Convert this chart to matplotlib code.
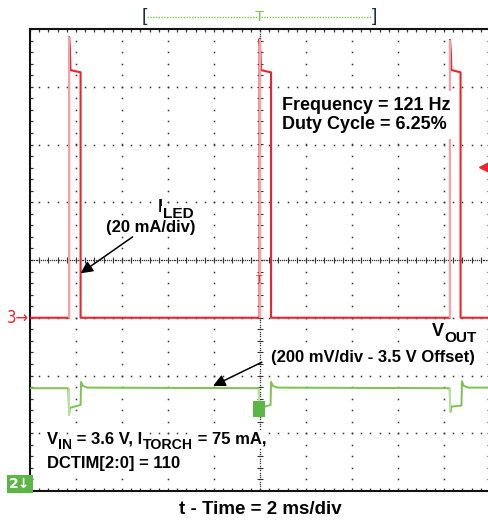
"""
Scope capture: ILED and VOUT in flash duty-cycle mode.
"""

import matplotlib.pyplot as plt
import numpy as np
from matplotlib.patches import Rectangle

plt.rcParams['font.family'] = ['Liberation Sans', 'DejaVu Sans']

# screen is 10 x 8 divisions, time in divisions (2 ms/div), level in divisions
iled_t = [0.0, 0.85, 0.85, 0.87, 0.88, 0.98, 1.10, 1.10,
          4.99, 4.99, 5.01, 5.02, 5.12, 5.24, 5.24,
          9.13, 9.13, 9.15, 9.16, 9.26, 9.36, 9.36, 10.0]
iled_v = [3.0, 3.0, 7.86, 7.58, 7.29, 7.27, 7.25, 3.0,
          3.0, 7.83, 7.56, 7.29, 7.27, 7.25, 3.0,
          3.0, 7.81, 7.58, 7.29, 7.27, 7.25, 3.0, 3.0]
iled_rise_t = [0.85, 4.99, 9.13]
iled_rise_top = [7.86, 7.83, 7.81]
iled_base = 3.0

vout_t = [0.0, 0.83, 0.84, 0.85, 0.87, 1.10, 1.11, 1.15, 1.25,
          4.97, 4.98, 4.99, 5.01, 5.23, 5.24, 5.28, 5.38,
          9.12, 9.13, 9.14, 9.16, 9.38, 9.39, 9.43, 9.53, 10.0]
vout_v = [1.78, 1.78, 1.58, 1.32, 1.44, 1.49, 1.89, 1.82, 1.79,
          1.78, 1.58, 1.32, 1.44, 1.49, 1.89, 1.82, 1.79,
          1.78, 1.60, 1.37, 1.46, 1.48, 1.90, 1.82, 1.79, 1.79]
vout_drop_t = [0.84, 4.98, 9.13]
vout_drop_low = [1.32, 1.32, 1.37]
vout_base = 1.78

red = '#e8262d'
pink = '#f3a3a8'
green = '#7dc351'
pale_green = '#b9e0a0'
dot = '#333333'
box = dict(facecolor='white', edgecolor='none', pad=1)


def chain_text(ax, x, y, pieces, size=12):
    """Write (string, is_subscript) pieces one after another on a baseline."""
    first = ax.text(x, y, pieces[0][0], fontsize=size, fontweight='bold',
                    va='baseline', ha='left', bbox=box, zorder=5)
    prev = first
    for s, sub in pieces[1:]:
        prev = ax.annotate(s, xy=(1, 0), xycoords=(prev, first),
                           xytext=(0, -3.5 if sub else 0), textcoords='offset points',
                           fontsize=size * 0.85 if sub else size, fontweight='bold',
                           va='bottom', ha='left', bbox=box, zorder=5)
    return first


fig = plt.figure(figsize=(4.89, 5.21), dpi=100)
ax = fig.add_axes([30 / 489, 30 / 521, 460 / 489, 462 / 521])
ax.set_xlim(0, 10)
ax.set_ylim(0, 8)

# graticule: dotted division lines, denser centre cross
for gx in range(1, 10):
    if gx == 5:
        continue
    ys = np.arange(0.2, 8, 0.2)
    ax.plot(np.full_like(ys, gx), ys, ls='none', marker='s', ms=1.1, color=dot, mew=0)
for gy in range(1, 8):
    if gy == 4:
        continue
    xs = np.arange(0.2, 10, 0.2)
    ax.plot(xs, np.full_like(xs, gy), ls='none', marker='s', ms=1.1, color=dot, mew=0)
ys = np.arange(0.04, 8, 0.04)
ax.plot(np.full_like(ys, 5), ys, ls='none', marker='s', ms=0.9, color=dot, mew=0)
ys = np.arange(0.2, 8, 0.2)
ax.plot(np.full_like(ys, 5), ys, ls='none', marker='_', ms=4, color=dot, mew=0.8)
xs = np.arange(0.04, 10, 0.04)
ax.plot(xs, np.full_like(xs, 4), ls='none', marker='s', ms=0.9, color=dot, mew=0)
xs = np.arange(0.2, 10, 0.2)
ax.plot(xs, np.full_like(xs, 4), ls='none', marker='|', ms=4, color=dot, mew=0.8)

# traces
ax.plot(iled_t, iled_v, color=red, lw=1.5, zorder=3)
ax.vlines(iled_rise_t, iled_base, iled_rise_top, color=pink, lw=1.5, zorder=3)
ax.plot(vout_t, vout_v, color=green, lw=1.4, zorder=3)
ax.vlines(vout_drop_t, vout_drop_low, vout_base, color=pale_green, lw=1.4, zorder=3)

# frame and ticks
ax.set_xticks(np.arange(0, 10.01, 0.2))
ax.set_yticks(np.arange(0, 8.01, 0.2))
ax.tick_params(direction='in', length=2.5, width=0.9, color=dot,
               top=True, right=True, labelbottom=False, labelleft=False)
for side in ['left', 'top', 'bottom', 'right']:
    ax.spines[side].set_linewidth(1.5)
    ax.spines[side].set_color('#111111')

# channel / trigger markers
ax.text(-0.03, iled_base, '3\u2192', color=red, fontsize=12, ha='right',
        va='center', family=['DejaVu Sans'], stretch='condensed', clip_on=False)
ax.text(-0.22, 0.12, '2\u2193', color='white', fontsize=10, fontweight='bold',
        ha='center', va='center', family=['DejaVu Sans'], clip_on=False,
        bbox=dict(facecolor='#5cb646', edgecolor='none', pad=1.5))
ax.plot([9.88], [5.61], marker='<', ms=7, color=red, clip_on=False, zorder=4)
ax.add_patch(Rectangle((4.85, 1.28), 0.26, 0.28, facecolor='#5cb646',
                       edgecolor='none', zorder=4))
ax.text(4.98, 3.65, 'T', color=red, fontsize=8, ha='center', va='center', zorder=4)

ax.text(2.48, 8.21, '[', color='#1c2a4a', fontsize=14, ha='center', va='center',
        clip_on=False)
ax.text(7.50, 8.21, ']', color='#1c2a4a', fontsize=14, ha='center', va='center',
        clip_on=False)
ax.plot([2.55, 7.44], [8.21, 8.21], color=green, lw=1, ls=(0, (1, 1)), clip_on=False)
ax.text(4.98, 8.21, 'T', color=green, fontsize=11, ha='center', va='center',
        clip_on=False)

# annotations
chain_text(ax, 2.78, 4.83, [('I', False), ('LED', True)], size=13)
ax.text(3.59, 4.57, '(20 mA/div)', fontsize=12, fontweight='bold', ha='right',
        va='center', bbox=box, zorder=5)
ax.annotate('', xy=(1.10, 3.77), xytext=(2.23, 4.40), zorder=6,
            arrowprops=dict(arrowstyle='-|>', color='black', lw=1.1,
                            mutation_scale=18, shrinkA=0, shrinkB=0))

ax.text(5.47, 6.51, 'Frequency = 121 Hz\nDuty Cycle = 6.25%', fontsize=13,
        fontweight='bold', ha='left', va='center', linespacing=1.15,
        bbox=dict(facecolor='white', edgecolor='none', pad=4), zorder=5)

chain_text(ax, 8.74, 2.68, [('V', False), ('OUT', True)], size=13)
ax.text(9.67, 2.32, '(200 mV/div - 3.5 V Offset)', fontsize=12, fontweight='bold',
        ha='right', va='center', bbox=box, zorder=5)
ax.annotate('', xy=(3.98, 1.82), xytext=(5.04, 2.23), zorder=6,
            arrowprops=dict(arrowstyle='-|>', color='black', lw=1.1,
                            mutation_scale=18, shrinkA=0, shrinkB=0))

chain_text(ax, 0.37, 0.82, [('V', False), ('IN', True), (' = 3.6 V, I', False),
                            ('TORCH', True), (' = 75 mA,', False)])
ax.text(0.37, 0.40, 'DCTIM[2:0] = 110', fontsize=12, fontweight='bold',
        ha='left', va='baseline', bbox=box, zorder=5)

fig.text(260 / 489, 1 - 510 / 521, 't - Time = 2 ms/div', fontsize=13.5,
         fontweight='bold', ha='center', va='center')

fig.savefig('out.png', dpi=100)
